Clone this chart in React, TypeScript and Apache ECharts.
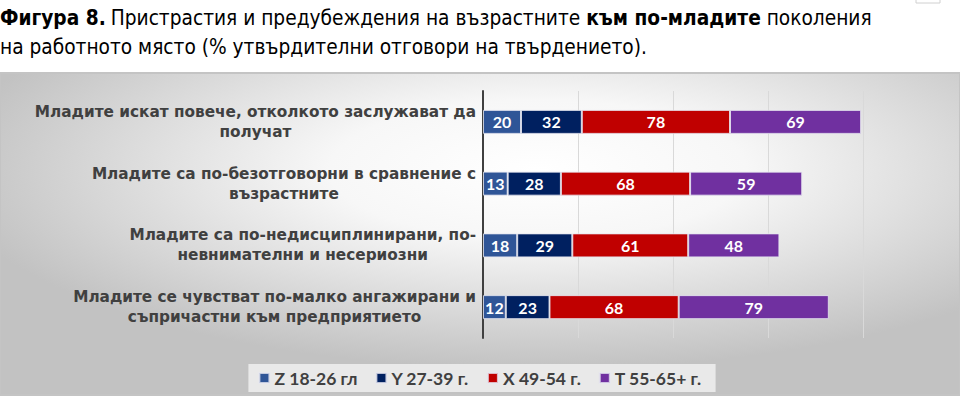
import React, { useEffect, useRef } from "react";
import * as echarts from "echarts";

const categories = [
  "Младите искат повече, отколкото заслужават да\nполучат",
  "Младите са по-безотговорни в сравнение с\nвъзрастните",
  "Младите са по-недисциплинирани, по-\nневнимателни и несериозни",
  "Младите се чувстват по-малко ангажирани и\nсъпричастни към предприятието",
];
const seriesNames = ["Z 18-26 гл", "Y 27-39 г.", "X 49-54 г.", "T 55-65+ г."];
const zValues = [20, 13, 18, 12];
const yValues = [32, 28, 29, 23];
const xValues = [78, 68, 61, 68];
const tValues = [69, 59, 48, 79];
const colors = ["#2F5597", "#002060", "#C00000", "#7030A0"];

const LABEL_FONT = "'DejaVu Sans', Verdana, sans-serif";
const CAL_FONT = "Lato, 'Noto Sans', 'Liberation Sans', sans-serif";
const TITLE_FONT = "'DejaVu Sans Condensed', 'DejaVu Sans', sans-serif";

export default function App() {
  const ref = useRef<HTMLDivElement>(null);
  useEffect(() => {
    if (!ref.current) return;
    const chart = echarts.init(ref.current, undefined, { renderer: "svg" });
    const values = [zValues, yValues, xValues, tValues];
    chart.setOption({
      animation: false,
      backgroundColor: "#ffffff",
      title: {
        left: 0,
        top: 3,
        padding: 0,
        text:
          "{b|Фигура 8.} {n|Пристрастия и предубеждения на възрастните }{b|към по-младите}{n| поколения}\n{n|на работното място (% утвърдителни отговори на твърдението).}",
        textStyle: {
          rich: {
            b: { fontFamily: TITLE_FONT, fontSize: 20.7, fontWeight: "bold", color: "#000", lineHeight: 29 },
            n: { fontFamily: TITLE_FONT, fontSize: 20.7, fontWeight: "normal", color: "#000", lineHeight: 29 },
          },
        },
      },
      graphic: [
        {
          type: "rect",
          z: -10,
          silent: true,
          shape: { x: 0, y: 73, width: 960, height: 322 },
          style: {
            fill: {
              type: "radial",
              x: 0.56,
              y: 0.3,
              r: 0.62,
              colorStops: [
                { offset: 0, color: "#ffffff" },
                { offset: 0.35, color: "#f7f7f7" },
                { offset: 1, color: "#c2c2c2" },
              ],
            },
            stroke: "#c4c4c4",
            lineWidth: 2,
          },
        },
        {
          type: "rect",
          silent: true,
          shape: { x: 916, y: -2, width: 24, height: 5 },
          style: { fill: "#fff", stroke: "#d0d0d0", lineWidth: 1 },
        },
      ],
      legend: {
        bottom: 6,
        left: "center",
        itemWidth: 10,
        itemHeight: 10,
        itemGap: 18,
        icon: "rect",
        padding: [5, 14, 5, 10],
        backgroundColor: "rgba(240,240,240,0.85)",
        textStyle: { fontFamily: CAL_FONT, fontSize: 17.5, fontWeight: "bold", color: "#404040" },
        data: seriesNames,
      },
      grid: { left: 483, right: 97, top: 91, bottom: 60 },
      xAxis: {
        type: "value",
        min: 0,
        max: 200,
        interval: 50,
        axisLabel: { show: false },
        axisLine: { show: false },
        axisTick: { show: false },
        splitLine: { lineStyle: { color: "#d9d9d9", width: 1 } },
      },
      yAxis: {
        type: "category",
        inverse: true,
        data: categories,
        axisLine: { show: true, lineStyle: { color: "#404040", width: 2 } },
        axisTick: { show: false },
        axisLabel: {
          margin: 7,
          align: "right",
          formatter: (v: string) => v.split("\n").map((l) => `{c|${l}}`).join("\n"),
          rich: {
            c: {
              align: "center",
              fontFamily: LABEL_FONT,
              fontSize: 15.3,
              fontWeight: "bold",
              color: "#404040",
              lineHeight: 20,
            },
          },
        },
      },
      series: seriesNames.map((name, i) => ({
        name,
        type: "bar",
        stack: "total",
        barWidth: 24,
        data: values[i],
        itemStyle: { color: colors[i], borderColor: "rgba(230,230,240,0.8)", borderWidth: 1 },
        label: {
          show: true,
          position: "inside",
          color: "#ffffff",
          fontFamily: CAL_FONT,
          fontSize: 16,
          fontWeight: "bold",
        },
      })),
    });
    return () => chart.dispose();
  }, []);
  return <div ref={ref} style={{ width: 960, height: 398, position: "fixed", left: 0, top: 0 }} />;
}
